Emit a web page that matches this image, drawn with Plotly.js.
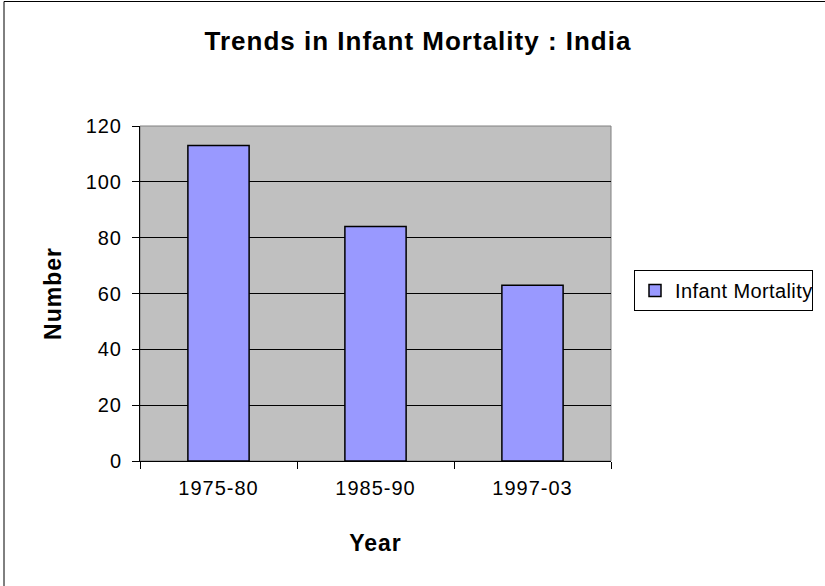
<!DOCTYPE html>
<html>
<head>
<meta charset="utf-8">
<script src="https://cdn.plot.ly/plotly-3.0.1.min.js"></script>
<style>html,body{margin:0;padding:0;background:#fff;}#chart{width:825px;height:586px;}#chart text{letter-spacing:1px;}#chart .legend text{letter-spacing:0.4px;}</style>
</head>
<body>
<div id="chart"></div>
<script>
const categories = ["1975-80", "1985-90", "1997-03"];
const infantMortality = [113, 84, 63];
const seriesName = "Infant Mortality";
const yTicks = [0, 20, 40, 60, 80, 100, 120];

const L = 140, R = 611, T = 126, B = 461, W = 825, H = 586;
const pw = R - L, ph = B - T;
const px = x => (x - L) / pw;
const py = y => (B - y) / ph;

const trace = {
  type: "bar",
  x: categories,
  y: infantMortality,
  name: seriesName,
  width: 0.39,
  marker: {color: "#9999ff", line: {color: "#000000", width: 1.5}},
  showlegend: true
};

const layout = {
  width: W, height: H,
  margin: {l: L, r: W - R, t: T, b: H - B, pad: 0},
  paper_bgcolor: "#ffffff",
  plot_bgcolor: "#c0c0c0",
  font: {family: "Arial, 'Liberation Sans', sans-serif", size: 19, color: "#000"},
  title: {text: "<b>Trends in Infant Mortality : India</b>", font: {size: 26, color: "#000"}, x: px(418), xref: "paper", xanchor: "center", y: 1 - 41 / H, yref: "container", yanchor: "middle"},
  xaxis: {
    type: "category",
    title: {text: "<b>Year</b>", font: {size: 23}, standoff: 36},
    tickson: "boundaries",
    ticks: "outside", ticklen: 7, tickcolor: "#000", tickwidth: 1,
    ticklabelstandoff: 9,
    showline: true, linecolor: "#000", linewidth: 1,
    showgrid: false, zeroline: false,
    tickfont: {size: 20}
  },
  yaxis: {
    range: [0, 120],
    tickvals: yTicks,
    ticks: "outside", ticklen: 7, tickcolor: "#000", tickwidth: 1,
    ticklabelstandoff: 6,
    showline: true, linecolor: "#000", linewidth: 1,
    showgrid: true, gridcolor: "#000", gridwidth: 1,
    zeroline: false,
    title: {text: "<b>Number</b>", font: {size: 23}, standoff: 20},
    tickfont: {size: 20}
  },
  legend: {
    x: px(634), y: py(270), xanchor: "left", yanchor: "top",
    bordercolor: "#000", borderwidth: 1, bgcolor: "#fff",
    font: {size: 20}
  },
  shapes: [
    {type: "rect", xref: "paper", yref: "paper", x0: px(4), x1: px(835), y0: py(596), y1: py(1.5),
     line: {color: "#000", width: 1}, fillcolor: "rgba(0,0,0,0)", layer: "below"},
    {type: "rect", xref: "paper", yref: "paper", x0: 0, x1: 1, y0: 0, y1: 1,
     line: {color: "#808080", width: 1}, fillcolor: "rgba(0,0,0,0)", layer: "below"}
  ]
};

Plotly.newPlot("chart", [trace], layout, {displayModeBar: false, staticPlot: true});
</script>
</body>
</html>
